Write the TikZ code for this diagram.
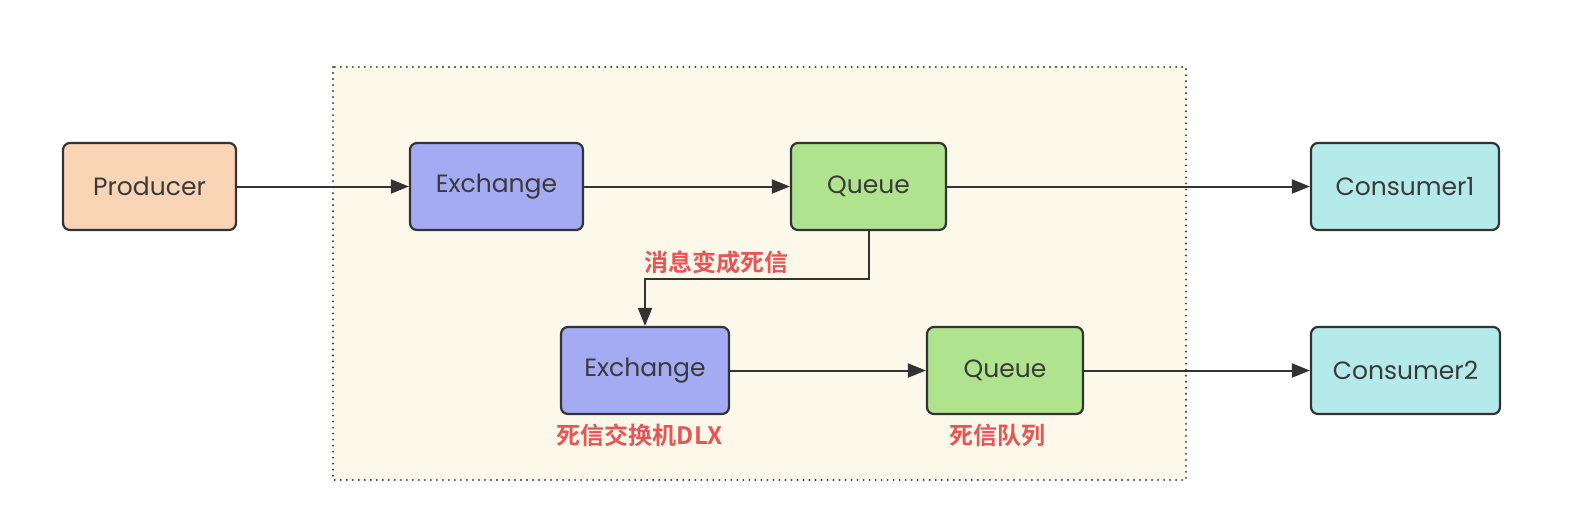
\documentclass[tikz,border=0pt]{standalone}
\usepackage{fontspec}
\setmainfont{Poppins}
\newfontfamily\cjk{Noto Sans CJK SC}[BoldFont={* Bold}]
\usetikzlibrary{arrows.meta}
\definecolor{frameFill}{HTML}{FCF8EA}
\definecolor{lineC}{HTML}{333333}
\definecolor{peach}{HTML}{F9D5B5}
\definecolor{lav}{HTML}{A4ABF2}
\definecolor{grn}{HTML}{B0E38E}
\definecolor{cyanC}{HTML}{B5EAEA}
\definecolor{redC}{HTML}{E85555}
\definecolor{txtC}{HTML}{3A3A3A}
\begin{document}
\begin{tikzpicture}[x=1pt,y=-1pt,
  box/.style={draw=lineC, line width=2.2pt, rounded corners=7pt, minimum height=87pt,
    font=\fontsize{25}{28}\selectfont, text=txtC, inner sep=0pt},
  conn/.style={draw=lineC, line width=2pt, -{Triangle[length=18pt,width=14pt]}},
  lbl/.style={text=redC, font=\cjk\bfseries\fontsize{24}{27}\selectfont, inner sep=0pt}]
\useasboundingbox (0,0) rectangle (1578,523);
\fill[white] (0,0) rectangle (1578,523);
\draw[fill=frameFill, draw=lineC, line width=2.2pt, dash pattern=on 0.01pt off 6pt, line cap=round]
  (333,67) rectangle (1186,480);
\node[box, fill=peach, minimum width=173pt] (prod) at (149.5,186.5) {Producer};
\node[box, fill=lav, minimum width=173pt] (ex1) at (496.5,186.5) {Exchange};
\node[box, fill=grn, minimum width=155pt] (q1) at (868.5,186.5) {Queue};
\node[box, fill=cyanC, minimum width=188pt] (c1) at (1405,186.5) {Consumer1};
\node[box, fill=lav, minimum width=168pt] (ex2) at (645,370.5) {Exchange};
\node[box, fill=grn, minimum width=156pt] (q2) at (1005,370.5) {Queue};
\node[box, fill=cyanC, minimum width=189pt] (c2) at (1405.5,370.5) {Consumer2};
\draw[conn] (prod) -- (ex1);
\draw[conn] (ex1) -- (q1);
\draw[conn] (q1) -- (c1);
\draw[conn] (ex2) -- (q2);
\draw[conn] (q2) -- (c2);
\coordinate (b1) at (869,279);
\coordinate (b2) at (645,279);
\draw[conn] (q1.south -| b1) -- (b1) -- (b2) -- (b2 |- ex2.north);
\node[lbl] (l1) at (716,262) {消息变成死信};
\node[lbl] (l2) at (640,435) {死信交换机DLX};
\node[lbl] (l3) at (997,435) {死信队列};
\end{tikzpicture}
\end{document}
